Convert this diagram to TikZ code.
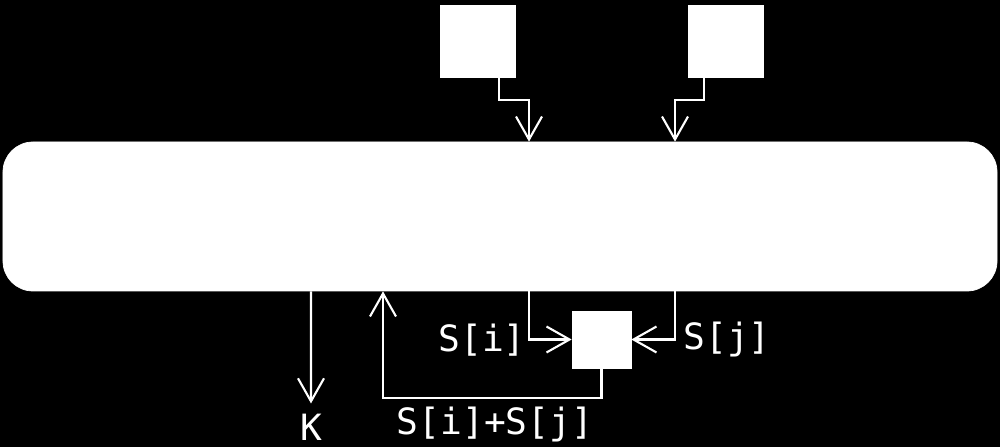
\documentclass[tikz,border=0pt]{standalone}
\usepackage{fontspec}
\setmonofont{DejaVu Sans Mono}
\usetikzlibrary{positioning}
\usetikzlibrary{arrows.meta}

\tikzset{
  box/.style={draw=white, fill=white, inner sep=0pt},
  lbl/.style={text=white, inner sep=0pt, font=\ttfamily\fontsize{20.6}{24}\selectfont},
  wire/.style={draw=white, line width=0.42mm, -{Straight Barb[length=4.6mm, width=5.2mm]}}
}

\begin{document}
\begin{tikzpicture}[x=0.2mm, y=-0.2mm]
    \fill[black] (0,0) rectangle (1000,447);
    \useasboundingbox (0,0) rectangle (1000,447);

    \node[box, minimum width=15mm, minimum height=14.4mm] (boxi) at (477.5,41) {};
    \node[box, minimum width=15mm, minimum height=14.4mm] (boxj) at (725.5,41) {};
    \node[box, rounded corners=6mm, minimum width=198.8mm, minimum height=29.8mm] (S) at (500,216.5) {};
    \node[box, minimum width=11.8mm, minimum height=11.4mm] (sum) at (601.5,339.5) {};

    \node[lbl] (K) at (311,427) {K};
    \node[lbl] (Si) at (482,340) {S[i]};
    \node[lbl] (Sj) at (727,340) {S[j]};
    \node[lbl] (Sij) at (495,425) {S[i]+S[j]};

    \draw[wire] ([xshift=4.3mm]boxi.south) -- ++(0,23) -| ([xshift=5.8mm]S.north);
    \draw[wire] ([xshift=-4.3mm]boxj.south) -- ++(0,23) -| ([xshift=35mm]S.north);
    \draw[wire] ([xshift=-37.8mm]S.south) -- ([yshift=2mm]K.north);
    \draw[wire] ([xshift=5.8mm]S.south) |- (sum.west);
    \draw[wire] ([xshift=35mm]S.south) |- (sum.east);
    \draw[wire] (sum.south) -- ++(0,30) -| ([xshift=-23.4mm]S.south);
  \end{tikzpicture}
\end{document}
